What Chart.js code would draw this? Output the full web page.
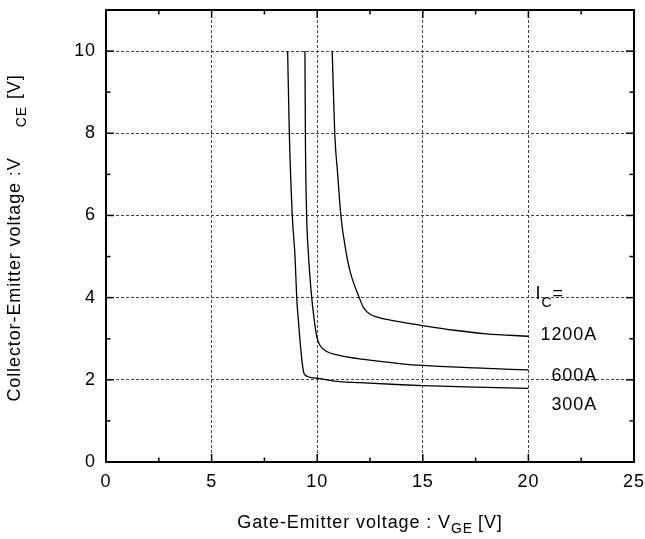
<!DOCTYPE html>
<html>
<head>
<meta charset="utf-8">
<script src="https://cdn.jsdelivr.net/npm/chart.js@4.4.1/dist/chart.umd.min.js"></script>
<style>
  html, body { margin: 0; padding: 0; background: #fff; }
  canvas { display: block; }
</style>
</head>
<body>
<canvas id="chart" width="645" height="539"></canvas>
<script>
// Axis ticks
const X_TICKS = [0, 5, 10, 15, 20, 25];
const Y_TICKS = [0, 2, 4, 6, 8, 10];
const X_MINOR = [2.5, 7.5, 12.5, 17.5, 22.5];
const Y_MINOR = [1, 3, 5, 7, 9];

// Curves: V_GE [V] vs V_CE [V]
const vge300 = [8.60, 8.68, 8.82, 8.95, 9.03, 9.11, 9.25, 9.35, 9.42, 9.98, 10.8, 12.0, 14.0, 15.0, 17.0, 20.0];
const vce300 = [10.0, 8.00, 6.00, 5.00, 4.00, 3.44, 2.60, 2.20, 2.12, 2.04, 1.97, 1.93, 1.88, 1.86, 1.83, 1.79];

const vge600 = [9.42, 9.44, 9.50, 9.58, 9.74, 9.85, 9.98, 10.13, 10.45, 11.0, 12.3, 14.0, 15.0, 17.5, 20.0];
const vce600 = [10.0, 8.00, 6.00, 5.10, 4.00, 3.50, 3.05, 2.84, 2.69, 2.60, 2.49, 2.39, 2.35, 2.29, 2.24];

const vge1200 = [10.71, 10.83, 10.97, 11.12, 11.37, 11.55, 11.99, 12.2, 12.49, 12.89, 13.3, 15.0, 16.6, 18.0, 20.0];
const vce1200 = [10.0, 8.00, 7.00, 6.00, 5.10, 4.65, 4.00, 3.75, 3.60, 3.52, 3.47, 3.32, 3.20, 3.12, 3.06];

const SERIES = ['300A', '600A', '1200A'];

const FONT = '"Liberation Sans", Arial, sans-serif';

function toPoints(xs, ys) {
    return xs.map((v, i) => ({ x: v, y: ys[i] }));
}

// Draws a run of text pieces (with subscripts) centred on cx
function drawRich(ctx, pieces, cx, baseline) {
    let total = 0;
    pieces.forEach(p => {
        ctx.font = `${p.size}px ${FONT}`;
        p.w = ctx.measureText(p.text).width;
        total += (p.gap || 0) + p.w;
    });
    let px = cx - total / 2;
    pieces.forEach(p => {
        px += p.gap || 0;
        ctx.font = `${p.size}px ${FONT}`;
        ctx.fillText(p.text, px, baseline + (p.dy || 0));
        px += p.w;
    });
}

const framePlugin = {
    id: 'frame',
    beforeDraw(chart) {
        chart.ctx.letterSpacing = '0.9px';
    },
    afterDatasetsDraw(chart) {
        const { ctx, chartArea: a, scales: { x, y } } = chart;
        ctx.save();
        ctx.strokeStyle = '#000';
        ctx.lineWidth = 1.5;
        const line = (x1, y1, x2, y2) => {
            ctx.beginPath(); ctx.moveTo(x1, y1); ctx.lineTo(x2, y2); ctx.stroke();
        };
        // inward ticks on all four sides
        X_TICKS.forEach(v => {
            const p = x.getPixelForValue(v);
            line(p, a.bottom, p, a.bottom - 8);
            line(p, a.top, p, a.top + 8);
        });
        X_MINOR.forEach(v => {
            const p = x.getPixelForValue(v);
            line(p, a.bottom, p, a.bottom - 4.5);
            line(p, a.top, p, a.top + 4.5);
        });
        Y_TICKS.forEach(v => {
            const p = y.getPixelForValue(v);
            line(a.left, p, a.left + 8, p);
            line(a.right, p, a.right - 8, p);
        });
        Y_MINOR.forEach(v => {
            const p = y.getPixelForValue(v);
            line(a.left, p, a.left + 4.5, p);
            line(a.right, p, a.right - 4.5, p);
        });
        ctx.lineWidth = 2;
        ctx.strokeRect(a.left, a.top, a.right - a.left, a.bottom - a.top);

        // curve labels
        ctx.fillStyle = '#000';
        ctx.textBaseline = 'alphabetic';
        ctx.letterSpacing = '0.9px';
        ctx.textAlign = 'left';
        let lx = x.getPixelForValue(20.34);
        let ly = y.getPixelForValue(3.97);
        ctx.font = `18px ${FONT}`;
        ctx.fillText('I', lx, ly);
        lx += ctx.measureText('I').width;
        ctx.font = `14px ${FONT}`;
        ctx.fillText('C', lx, ly + 8);
        lx += ctx.measureText('C').width;
        ctx.font = `18px ${FONT}`;
        ctx.fillText('=', lx, ly);

        ctx.textAlign = 'right';
        const rx = x.getPixelForValue(23.25);
        ctx.fillText('1200A', rx, y.getPixelForValue(2.96));
        ctx.fillText('600A', rx, y.getPixelForValue(1.96));
        ctx.fillText('300A', rx, y.getPixelForValue(1.26));
        ctx.restore();
    },
    afterDraw(chart) {
        const { ctx, chartArea: a } = chart;
        ctx.save();
        ctx.fillStyle = '#000';
        ctx.textAlign = 'left';
        ctx.textBaseline = 'alphabetic';
        ctx.letterSpacing = '0.9px';
        // x title
        drawRich(ctx, [
            { text: 'Gate-Emitter voltage : V', size: 18 },
            { text: 'GE', size: 14, dy: 5 },
            { text: '[V]', size: 18, gap: 5 }
        ], (a.left + a.right) / 2, 528);
        // y title
        ctx.translate(20, (a.top + a.bottom) / 2 + 2);
        ctx.rotate(-Math.PI / 2);
        drawRich(ctx, [
            { text: 'Collector-Emitter voltage :V', size: 18 },
            { text: 'CE', size: 14, dy: 6, gap: 30 },
            { text: '[V]', size: 18, gap: 7 }
        ], 0, 0);
        ctx.restore();
    }
};

const lineStyle = {
    borderColor: '#000',
    borderWidth: 1.3,
    pointRadius: 0,
    cubicInterpolationMode: 'monotone',
    fill: false
};

new Chart(document.getElementById('chart'), {
    type: 'scatter',
    data: {
        datasets: [
            { label: SERIES[0], data: toPoints(vge300, vce300), showLine: true, ...lineStyle },
            { label: SERIES[1], data: toPoints(vge600, vce600), showLine: true, ...lineStyle },
            { label: SERIES[2], data: toPoints(vge1200, vce1200), showLine: true, ...lineStyle }
        ]
    },
    options: {
        responsive: false,
        animation: false,
        layout: { padding: { top: 10, right: 11, left: 0, bottom: 0 } },
        plugins: {
            legend: { display: false },
            tooltip: { enabled: false }
        },
        scales: {
            x: {
                type: 'linear',
                min: 0,
                max: 25,
                afterBuildTicks: s => { s.ticks = X_TICKS.map(v => ({ value: v })); },
                afterFit: s => { s.height = 77; s.paddingLeft = 0; s.paddingRight = 0; },
                ticks: {
                    color: '#000',
                    padding: 9,
                    font: { family: FONT, size: 18 },
                    callback: v => String(v)
                },
                grid: {
                    drawTicks: false,
                    lineWidth: 1,
                    color: c => (c.tick && (c.tick.value === 0 || c.tick.value === 25)) ? 'rgba(0,0,0,0)' : '#444'
                },
                border: { display: false, dash: [3, 2] }
            },
            y: {
                type: 'linear',
                min: 0,
                max: 11,
                afterBuildTicks: s => { s.ticks = Y_TICKS.map(v => ({ value: v })); },
                afterFit: s => { s.width = 106; s.paddingTop = 0; s.paddingBottom = 0; },
                ticks: {
                    color: '#000',
                    padding: 10,
                    font: { family: FONT, size: 18 },
                    callback: v => String(v)
                },
                grid: {
                    drawTicks: false,
                    lineWidth: 1,
                    color: c => (c.tick && c.tick.value === 0) ? 'rgba(0,0,0,0)' : '#444'
                },
                border: { display: false, dash: [3, 2] }
            }
        }
    },
    plugins: [framePlugin]
});
</script>
</body>
</html>
